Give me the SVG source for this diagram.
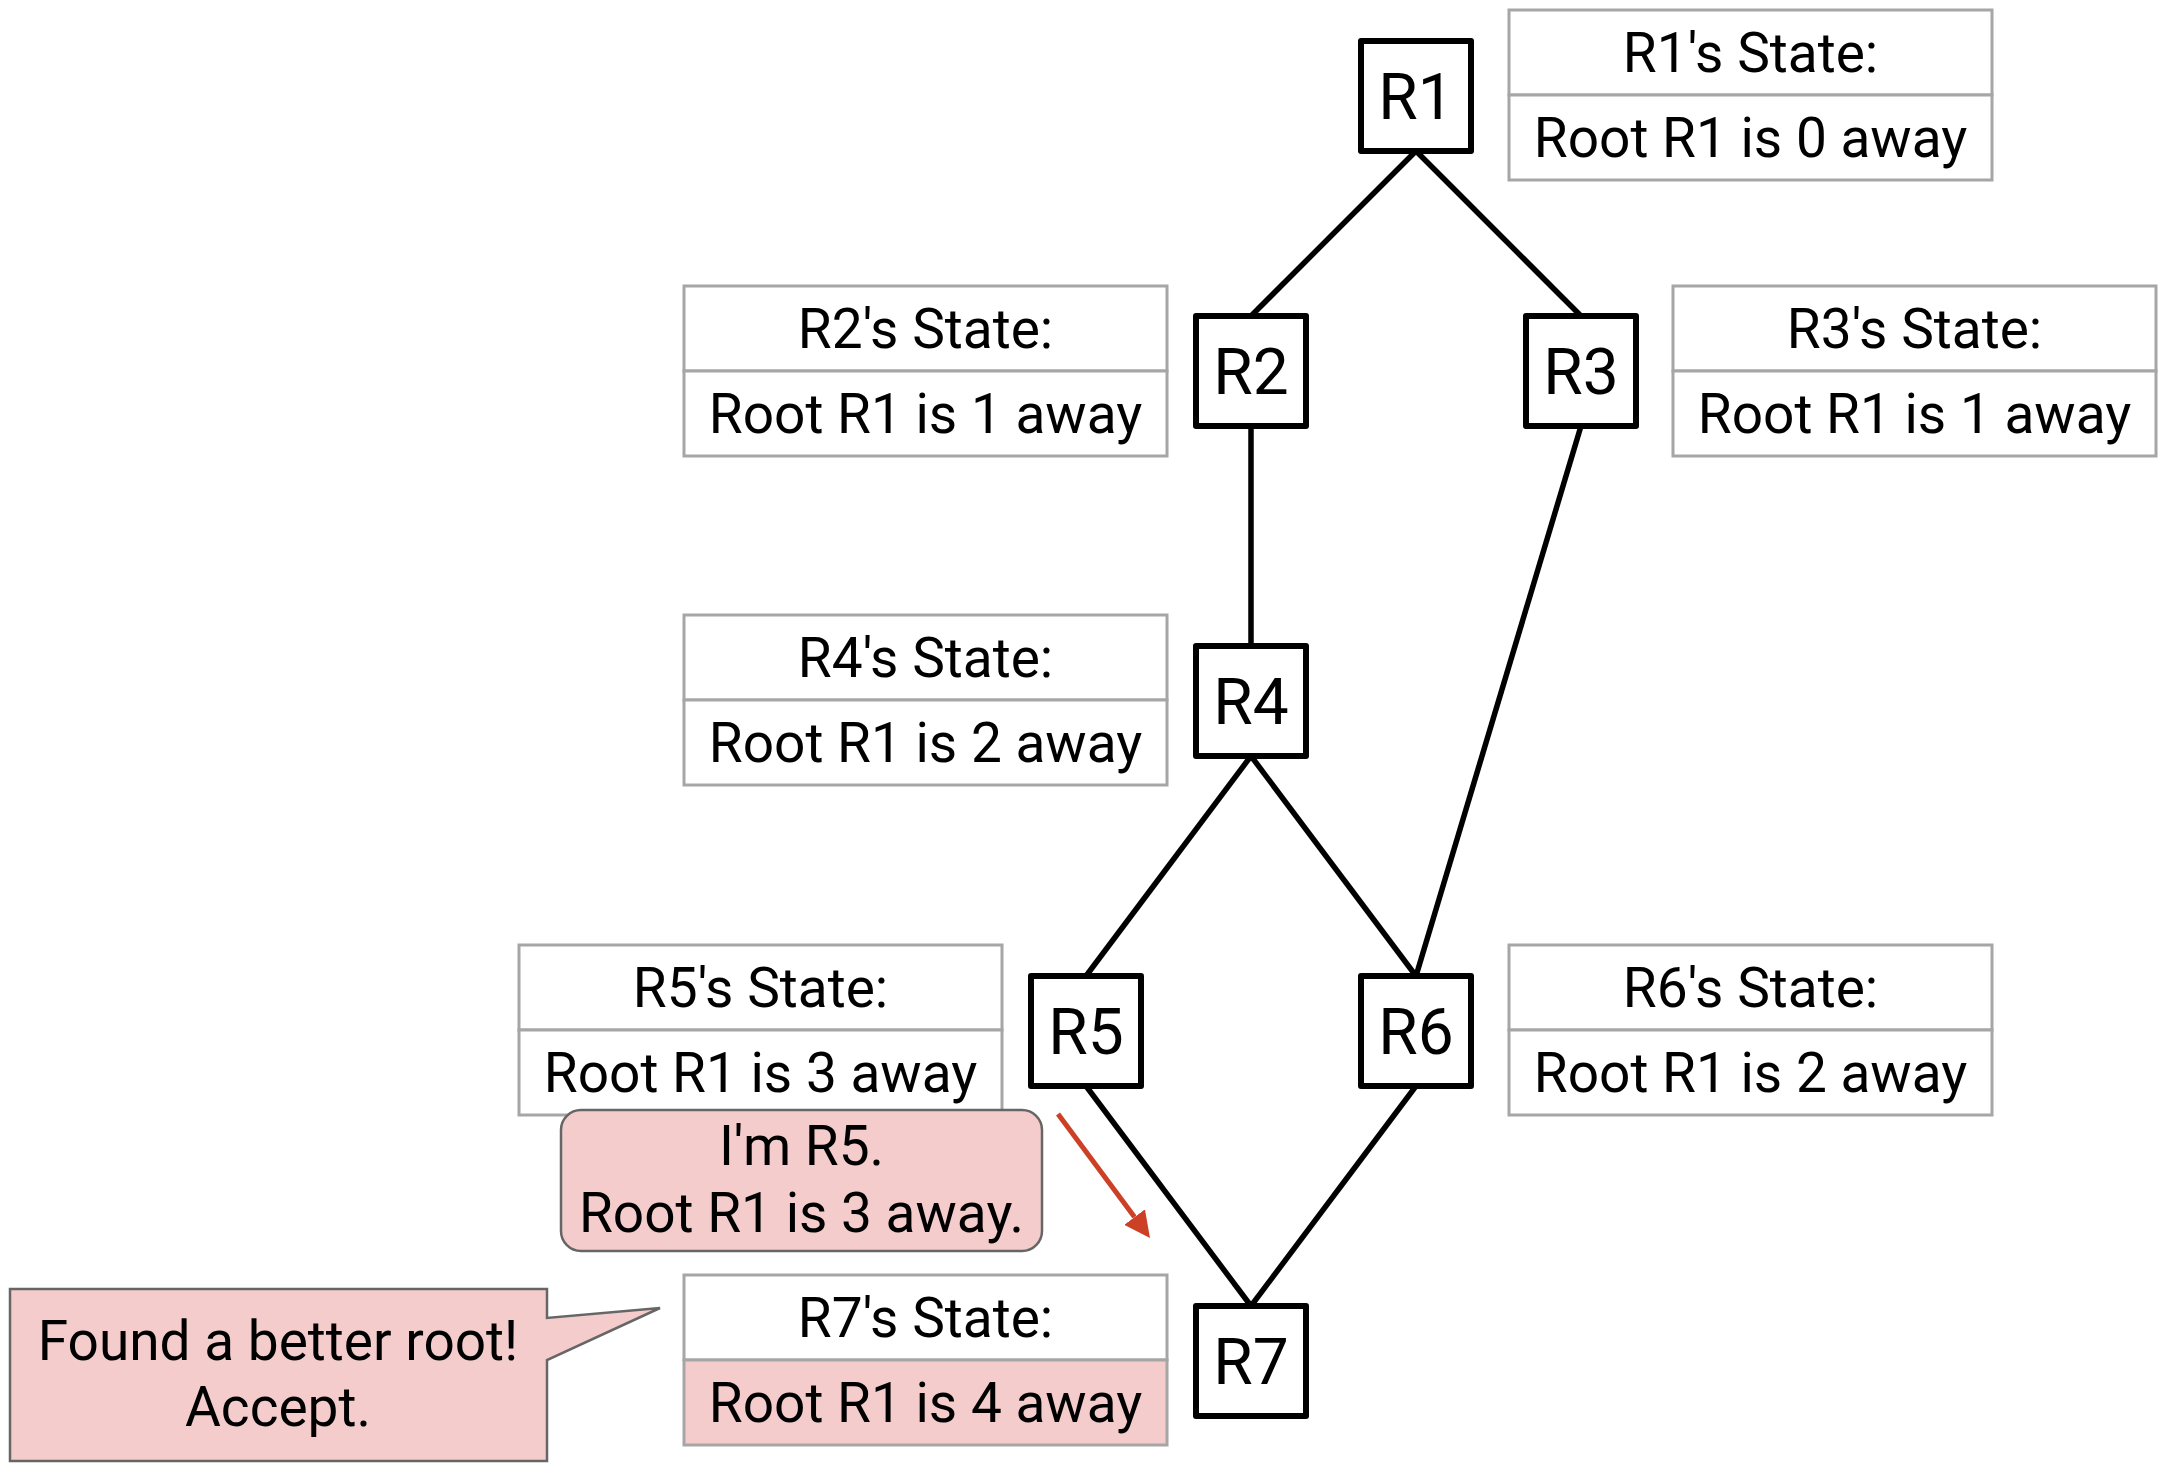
<svg xmlns="http://www.w3.org/2000/svg" width="2163" height="1475" viewBox="0 0 2163 1475">
<style>
text{font-family:Roboto,"Liberation Sans",sans-serif;fill:#000;text-anchor:middle}
.node rect{fill:#fff;stroke:#000;stroke-width:6;stroke-linejoin:round}
.node text{font-size:64px}
.state rect{fill:#fff;stroke:#a6a6a6;stroke-width:3}
.state rect.hl{fill:#f4cccc}
.state text{font-size:55px}
.conn line{stroke:#000;stroke-width:5.5}
.note{fill:#f4cccc;stroke:#666;stroke-width:2.5}
.notetext{font-size:55px}
</style>
<defs>
<marker id="ah" viewBox="0 0 26 26" refX="0" refY="13" markerWidth="26" markerHeight="26" markerUnits="userSpaceOnUse" orient="auto">
<path d="M0,0 L26,13 L0,26 Z" fill="#cc4125"/>
</marker>
</defs>
<g id="connectors" class="conn">
<line x1="1416" y1="151" x2="1251" y2="316"/>
<line x1="1416" y1="151" x2="1581" y2="316"/>
<line x1="1251" y1="426" x2="1251" y2="646"/>
<line x1="1581" y1="426" x2="1416" y2="976"/>
<line x1="1251" y1="756" x2="1086" y2="976"/>
<line x1="1251" y1="756" x2="1416" y2="976"/>
<line x1="1086" y1="1086" x2="1251" y2="1306"/>
<line x1="1416" y1="1086" x2="1251" y2="1306"/>
</g>
<g id="R1" class="node"><rect x="1361" y="41" width="110" height="110"/><text x="1416" y="119">R1</text></g>
<g id="R2" class="node"><rect x="1196" y="316" width="110" height="110"/><text x="1251" y="394">R2</text></g>
<g id="R3" class="node"><rect x="1526" y="316" width="110" height="110"/><text x="1581" y="394">R3</text></g>
<g id="R4" class="node"><rect x="1196" y="646" width="110" height="110"/><text x="1251" y="724">R4</text></g>
<g id="R5" class="node"><rect x="1031" y="976" width="110" height="110"/><text x="1086" y="1054">R5</text></g>
<g id="R6" class="node"><rect x="1361" y="976" width="110" height="110"/><text x="1416" y="1054">R6</text></g>
<g id="R7" class="node"><rect x="1196" y="1306" width="110" height="110"/><text x="1251" y="1384">R7</text></g>

<g id="R1state" class="state">
<rect x="1509" y="10" width="483" height="85"/><rect x="1509" y="95" width="483" height="85"/>
<text x="1750.5" y="72">R1's State:</text><text x="1750.5" y="157">Root R1 is 0 away</text>
</g>
<g id="R2state" class="state">
<rect x="684" y="286" width="483" height="85"/><rect x="684" y="371" width="483" height="85"/>
<text x="925.5" y="348">R2's State:</text><text x="925.5" y="433">Root R1 is 1 away</text>
</g>
<g id="R3state" class="state">
<rect x="1673" y="286" width="483" height="85"/><rect x="1673" y="371" width="483" height="85"/>
<text x="1914.5" y="348">R3's State:</text><text x="1914.5" y="433">Root R1 is 1 away</text>
</g>
<g id="R4state" class="state">
<rect x="684" y="615" width="483" height="85"/><rect x="684" y="700" width="483" height="85"/>
<text x="925.5" y="677">R4's State:</text><text x="925.5" y="762">Root R1 is 2 away</text>
</g>
<g id="R5state" class="state">
<rect x="519" y="945" width="483" height="85"/><rect x="519" y="1030" width="483" height="85"/>
<text x="760.5" y="1007">R5's State:</text><text x="760.5" y="1092">Root R1 is 3 away</text>
</g>
<g id="R6state" class="state">
<rect x="1509" y="945" width="483" height="85"/><rect x="1509" y="1030" width="483" height="85"/>
<text x="1750.5" y="1007">R6's State:</text><text x="1750.5" y="1092">Root R1 is 2 away</text>
</g>
<g id="R7state" class="state">
<rect x="684" y="1275" width="483" height="85"/><rect class="hl" x="684" y="1360" width="483" height="85"/>
<text x="925.5" y="1337">R7's State:</text><text x="925.5" y="1422">Root R1 is 4 away</text>
</g>

<g id="message">
<rect class="note" x="561" y="1110" width="481" height="141" rx="20" ry="20"/>
<text class="notetext" x="801.5" y="1165">I'm R5.</text>
<text class="notetext" x="801.5" y="1232">Root R1 is 3 away.</text>
</g>
<g id="arrow">
<line x1="1058" y1="1114" x2="1134.5" y2="1217.1" stroke="#cc4125" stroke-width="5" marker-end="url(#ah)"/>
</g>
<g id="callout">
<path class="note" d="M10,1289 H547 V1318 L660,1308 L547,1360 V1461 H10 Z"/>
<text class="notetext" x="278" y="1360">Found a better root!</text>
<text class="notetext" x="278" y="1426">Accept.</text>
</g>
</svg>
